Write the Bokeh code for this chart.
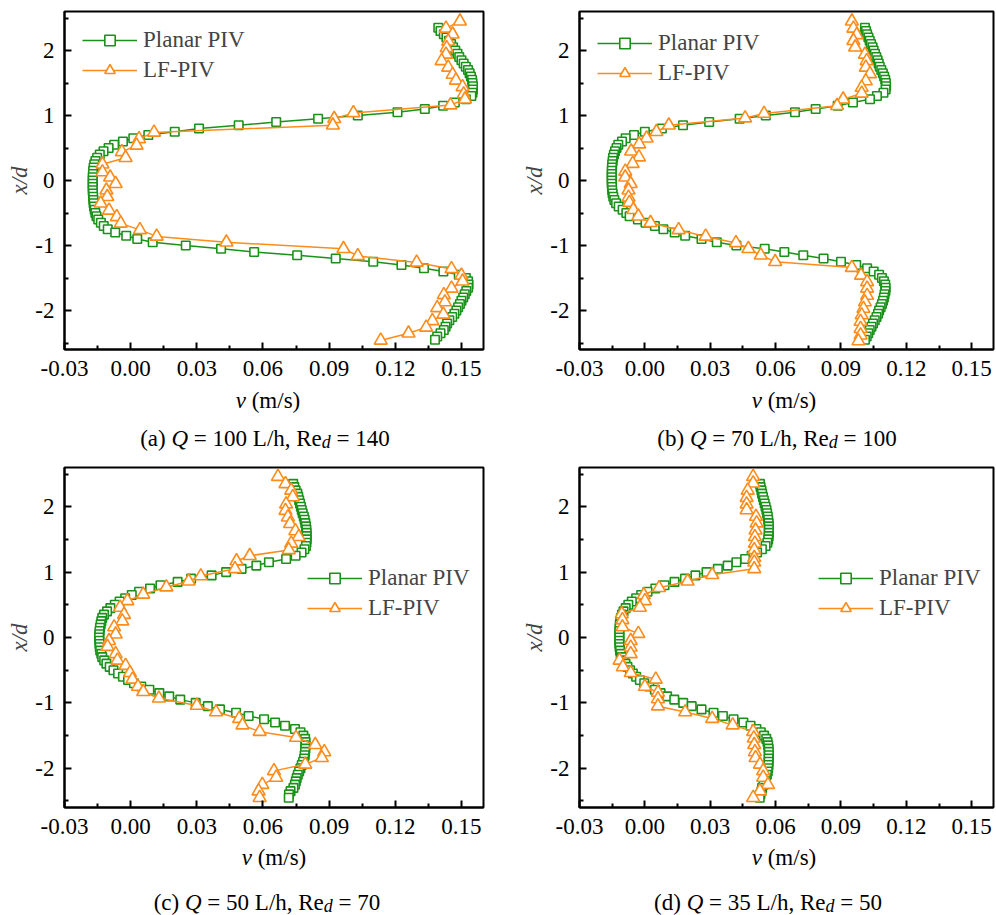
from bokeh.plotting import figure
from bokeh.models import (FixedTicker, Legend, LegendItem, Div,
                          NumeralTickFormatter, Range1d)
from bokeh.layouts import column, row
from bokeh.embed import file_html
from bokeh.resources import INLINE

FONT = "Liberation Serif"
FS = "23px"
GREEN = "#1a921a"
ORANGE = "#ff8c1a"

# ---------------- data ----------------
X_TICKS = [-0.03, 0.00, 0.03, 0.06, 0.09, 0.12, 0.15]
X_MINOR = [-0.015, 0.015, 0.045, 0.075, 0.105, 0.135]
Y_TICKS = [-2, -1, 0, 1, 2]
Y_MINOR = [-2.5, -1.5, -0.5, 0.5, 1.5, 2.5]

# x/d positions of the planar PIV profile (shared by all four cases)
XD_PLANAR = [2.35, 2.30, 2.25, 2.20, 2.15, 2.10, 2.05, 2.00, 1.95, 1.90,
             1.85, 1.80, 1.75, 1.70, 1.65, 1.60, 1.55, 1.50, 1.45, 1.40,
             1.35, 1.30, 1.25, 1.20, 1.15, 1.10, 1.05, 1.00, 0.95, 0.90,
             0.85, 0.80, 0.75, 0.70, 0.65, 0.60, 0.55, 0.50, 0.45, 0.40,
             0.35, 0.30, 0.25, 0.20, 0.15, 0.10, 0.05, 0.00, -0.05, -0.10,
             -0.15, -0.20, -0.25, -0.30, -0.35, -0.40, -0.45, -0.50, -0.55, -0.60,
             -0.65, -0.70, -0.75, -0.80, -0.85, -0.90, -0.95, -1.00, -1.05, -1.10,
             -1.15, -1.20, -1.25, -1.30, -1.35, -1.40, -1.45, -1.50, -1.55, -1.60,
             -1.65, -1.70, -1.75, -1.80, -1.85, -1.90, -1.95, -2.00, -2.05, -2.10,
             -2.15, -2.20, -2.25, -2.30, -2.35, -2.40, -2.45]

# (a) Q = 100 L/h
V_PLANAR_A = [0.1395, 0.1405, 0.1420, 0.1432, 0.1443, 0.1453, 0.1462, 0.1472, 0.1482, 0.1490,
              0.1500, 0.1510, 0.1520, 0.1530, 0.1537, 0.1543, 0.1548, 0.1550, 0.1552, 0.1552,
              0.1550, 0.1545, 0.1520, 0.1470, 0.1417, 0.1334, 0.1210, 0.1030, 0.0850, 0.0660,
              0.0490, 0.0310, 0.0200, 0.0080, 0.0012, -0.0035, -0.0075, -0.0100, -0.0123, -0.0140,
              -0.0152, -0.0160, -0.0165, -0.0168, -0.0170, -0.0171, -0.0172, -0.0172, -0.0172, -0.0172,
              -0.0172, -0.0171, -0.0170, -0.0169, -0.0168, -0.0166, -0.0163, -0.0160, -0.0155, -0.0147,
              -0.0135, -0.0122, -0.0104, -0.0070, -0.0020, 0.0030, 0.0100, 0.0250, 0.0410, 0.0560,
              0.0755, 0.0930, 0.1100, 0.1228, 0.1330, 0.1418, 0.1488, 0.1520, 0.1530, 0.1532,
              0.1530, 0.1522, 0.1515, 0.1508, 0.1500, 0.1493, 0.1485, 0.1477, 0.1468, 0.1458,
              0.1445, 0.1435, 0.1428, 0.1420, 0.1405, 0.1390, 0.1380]
XD_LF_A = [2.45, 2.34, 2.25, 2.14, 2.04, 1.94, 1.84, 1.74, 1.63, 1.54,
           1.44, 1.33, 1.25, 1.16, 1.04, 0.95, 0.85, 0.74, 0.64, 0.54,
           0.44, 0.35, 0.25, 0.13, 0.05, -0.05, -0.15, -0.25, -0.35, -0.46,
           -0.56, -0.66, -0.76, -0.86, -0.95, -1.05, -1.16, -1.26, -1.36, -1.46,
           -1.55, -1.66, -1.76, -1.87, -1.96, -2.06, -2.16, -2.26, -2.35, -2.46]
V_LF_A = [0.1493, 0.1430, 0.1460, 0.1440, 0.1433, 0.1430, 0.1410, 0.1440, 0.1460, 0.1475,
          0.1505, 0.1510, 0.1516, 0.1450, 0.1010, 0.0923, 0.0917, 0.0106, 0.0038, 0.0027,
          -0.0040, -0.0023, -0.0128, -0.0128, -0.0093, -0.0068, -0.0110, -0.0106, -0.0136, -0.0098,
          -0.0063, -0.0045, 0.0042, 0.0118, 0.0434, 0.0965, 0.1030, 0.1297, 0.1455, 0.1500,
          0.1505, 0.1455, 0.1420, 0.1425, 0.1390, 0.1418, 0.1368, 0.1340, 0.1260, 0.1134]

# (b) Q = 70 L/h
V_PLANAR_B = [0.1010, 0.1015, 0.1020, 0.1026, 0.1032, 0.1038, 0.1045, 0.1050, 0.1056, 0.1062,
              0.1068, 0.1073, 0.1078, 0.1085, 0.1092, 0.1098, 0.1103, 0.1106, 0.1107, 0.1105,
              0.1095, 0.1065, 0.1033, 0.0955, 0.0885, 0.0784, 0.0689, 0.0555, 0.0435, 0.0295,
              0.0175, 0.0078, 0.0000, -0.0050, -0.0088, -0.0105, -0.0122, -0.0130, -0.0137, -0.0142,
              -0.0146, -0.0148, -0.0150, -0.0151, -0.0152, -0.0152, -0.0152, -0.0152, -0.0152, -0.0151,
              -0.0150, -0.0148, -0.0145, -0.0140, -0.0132, -0.0120, -0.0102, -0.0085, -0.0070, -0.0032,
              0.0003, 0.0046, 0.0085, 0.0137, 0.0185, 0.0260, 0.0330, 0.0420, 0.0550, 0.0640,
              0.0727, 0.0820, 0.0900, 0.0970, 0.1020, 0.1050, 0.1075, 0.1088, 0.1097, 0.1103,
              0.1105, 0.1104, 0.1100, 0.1097, 0.1093, 0.1088, 0.1082, 0.1075, 0.1070, 0.1063,
              0.1055, 0.1047, 0.1040, 0.1032, 0.1025, 0.1018, 0.1010]
XD_LF_B = [2.45, 2.34, 2.24, 2.15, 2.05, 1.94, 1.84, 1.74, 1.64, 1.53,
           1.43, 1.34, 1.25, 1.15, 1.03, 0.96, 0.85, 0.75, 0.65, 0.56,
           0.45, 0.36, 0.26, 0.14, 0.05, -0.05, -0.15, -0.26, -0.34, -0.45,
           -0.55, -0.65, -0.76, -0.86, -0.96, -1.05, -1.15, -1.25, -1.34, -1.46,
           -1.56, -1.66, -1.77, -1.87, -1.97, -2.07, -2.17, -2.28, -2.38, -2.47]
V_LF_B = [0.0950, 0.0957, 0.0972, 0.0957, 0.0965, 0.1010, 0.1018, 0.1014, 0.1033, 0.1014,
          0.0995, 0.0995, 0.0910, 0.0882, 0.0547, 0.0460, 0.0110, 0.0053, 0.0008, -0.0026,
          -0.0063, -0.0027, -0.0056, -0.0090, -0.0090, -0.0065, -0.0075, -0.0075, -0.0071, -0.0053,
          -0.0030, 0.0026, 0.0155, 0.0279, 0.0418, 0.0475, 0.0532, 0.0598, 0.0950, 0.0992,
          0.1020, 0.1020, 0.1020, 0.1010, 0.1003, 0.0995, 0.0990, 0.0990, 0.0990, 0.0980]

# (c) Q = 50 L/h
V_PLANAR_C = [0.0737, 0.0742, 0.0748, 0.0756, 0.0760, 0.0764, 0.0768, 0.0772, 0.0776, 0.0780,
              0.0785, 0.0789, 0.0792, 0.0795, 0.0797, 0.0798, 0.0798, 0.0798, 0.0797, 0.0795,
              0.0788, 0.0775, 0.0748, 0.0705, 0.0627, 0.0570, 0.0503, 0.0433, 0.0367, 0.0274,
              0.0213, 0.0135, 0.0088, 0.0038, 0.0005, -0.0025, -0.0050, -0.0072, -0.0092, -0.0107,
              -0.0121, -0.0129, -0.0133, -0.0136, -0.0139, -0.0141, -0.0142, -0.0143, -0.0142, -0.0141,
              -0.0140, -0.0138, -0.0133, -0.0129, -0.0120, -0.0110, -0.0095, -0.0078, -0.0057, -0.0035,
              -0.0012, 0.0015, 0.0048, 0.0085, 0.0130, 0.0175, 0.0225, 0.0295, 0.0350, 0.0405,
              0.0478, 0.0535, 0.0605, 0.0655, 0.0700, 0.0745, 0.0770, 0.0783, 0.0791, 0.0793,
              0.0793, 0.0792, 0.0791, 0.0789, 0.0787, 0.0782, 0.0776, 0.0770, 0.0764, 0.0758,
              0.0753, 0.0749, 0.0745, 0.0738, 0.0725, 0.0718, 0.0717]
XD_LF_C = [2.46, 2.35, 2.25, 2.15, 2.04, 1.94, 1.84, 1.74, 1.63, 1.54,
           1.44, 1.34, 1.25, 1.17, 1.05, 0.94, 0.86, 0.77, 0.66, 0.56,
           0.46, 0.35, 0.25, 0.16, 0.05, -0.05, -0.14, -0.25, -0.35, -0.43,
           -0.54, -0.64, -0.75, -0.83, -0.93, -1.04, -1.14, -1.24, -1.34, -1.44,
           -1.53, -1.64, -1.75, -1.84, -1.94, -2.04, -2.14, -2.25, -2.35, -2.45]
V_LF_C = [0.0668, 0.0702, 0.0728, 0.0735, 0.0705, 0.0702, 0.0713, 0.0723, 0.0747, 0.0762,
          0.0728, 0.0717, 0.0540, 0.0480, 0.0473, 0.0318, 0.0263, 0.0162, 0.0057, -0.0015,
          -0.0048, -0.0030, -0.0038, -0.0075, -0.0068, -0.0098, -0.0105, -0.0068, -0.0060, -0.0023,
          -0.0003, 0.0008, 0.0033, 0.0057, 0.0128, 0.0300, 0.0387, 0.0492, 0.0507, 0.0585,
          0.0750, 0.0837, 0.0878, 0.0867, 0.0792, 0.0650, 0.0660, 0.0597, 0.0580, 0.0585]

# (d) Q = 35 L/h
V_PLANAR_D = [0.0528, 0.0531, 0.0535, 0.0538, 0.0542, 0.0546, 0.0550, 0.0554, 0.0558, 0.0561,
              0.0564, 0.0566, 0.0568, 0.0569, 0.0569, 0.0569, 0.0568, 0.0566, 0.0562, 0.0554,
              0.0537, 0.0515, 0.0490, 0.0460, 0.0420, 0.0380, 0.0335, 0.0283, 0.0232, 0.0184,
              0.0136, 0.0090, 0.0048, 0.0012, -0.0017, -0.0040, -0.0060, -0.0076, -0.0088, -0.0098,
              -0.0105, -0.0110, -0.0113, -0.0115, -0.0116, -0.0117, -0.0117, -0.0117, -0.0117, -0.0117,
              -0.0116, -0.0114, -0.0111, -0.0105, -0.0098, -0.0089, -0.0080, -0.0068, -0.0055, -0.0040,
              -0.0023, -0.0003, 0.0020, 0.0046, 0.0072, 0.0102, 0.0135, 0.0176, 0.0215, 0.0260,
              0.0315, 0.0358, 0.0407, 0.0452, 0.0485, 0.0512, 0.0532, 0.0547, 0.0557, 0.0563,
              0.0566, 0.0568, 0.0569, 0.0569, 0.0568, 0.0568, 0.0567, 0.0566, 0.0564, 0.0560,
              0.0555, 0.0550, 0.0545, 0.0538, 0.0535, 0.0530, 0.0527]
XD_LF_D = [2.46, 2.36, 2.25, 2.14, 2.04, 1.95, 1.85, 1.75, 1.64, 1.54,
           1.44, 1.34, 1.22, 1.15, 1.05, 0.96, 0.86, 0.76, 0.65, 0.56,
           0.46, 0.36, 0.27, 0.16, 0.06, -0.05, -0.15, -0.25, -0.35, -0.45,
           -0.54, -0.64, -0.75, -0.84, -0.94, -1.05, -1.14, -1.24, -1.34, -1.44,
           -1.54, -1.64, -1.75, -1.84, -1.94, -2.04, -2.14, -2.25, -2.35, -2.45]
V_LF_D = [0.0497, 0.0497, 0.0472, 0.0467, 0.0467, 0.0467, 0.0510, 0.0513, 0.0508, 0.0505,
          0.0505, 0.0502, 0.0502, 0.0502, 0.0502, 0.0309, 0.0196, 0.0065, -0.0005, 0.0000,
          -0.0023, -0.0106, -0.0103, -0.0103, -0.0030, -0.0065, -0.0065, -0.0065, -0.0116, -0.0101,
          -0.0065, 0.0050, 0.0000, 0.0060, 0.0060, 0.0060, 0.0185, 0.0309, 0.0403, 0.0497,
          0.0500, 0.0502, 0.0505, 0.0508, 0.0528, 0.0543, 0.0543, 0.0565, 0.0528, 0.0497]

SERIES_NAMES = ["Planar PIV", "LF-PIV"]
X_TITLE = "<i>v</i> (m/s)"
SUB_D = "<i style='font-size:0.78em; vertical-align:-0.12em'>d</i>"
CAPTIONS = [
    f"(a) <i>Q</i> = 100 L/h, Re{SUB_D} = 140",
    f"(b) <i>Q</i> = 70 L/h, Re{SUB_D} = 100",
    f"(c) <i>Q</i> = 50 L/h, Re{SUB_D} = 70",
    f"(d) <i>Q</i> = 35 L/h, Re{SUB_D} = 50",
]


def make_panel(v_planar, xd_lf, v_lf, width, b_left, b_right, b_top, frame_h,
               legend_xy):
    b_bottom = 40
    height = b_top + frame_h + b_bottom
    p = figure(width=width, height=height,
               x_range=Range1d(-0.03, 0.16), y_range=Range1d(-2.6, 2.6),
               output_backend="svg", toolbar_location=None,
               min_border_left=b_left, min_border_right=b_right,
               min_border_top=b_top, min_border_bottom=b_bottom)
    p.grid.visible = False
    p.outline_line_color = "black"
    p.outline_line_width = 2
    p.outline_line_alpha = 1

    for ax in (p.xaxis[0], p.yaxis[0]):
        ax.axis_line_width = 2
        ax.major_tick_line_width = 2
        ax.minor_tick_line_width = 2
        ax.major_tick_in = 7
        ax.major_tick_out = 0
        ax.minor_tick_in = 4
        ax.minor_tick_out = 0
        ax.major_label_text_font = FONT
        ax.major_label_text_font_size = FS
        ax.major_label_text_color = "black"
    p.xaxis.ticker = FixedTicker(ticks=X_TICKS, minor_ticks=X_MINOR)
    p.xaxis.formatter = NumeralTickFormatter(format="0.00")
    p.xaxis.major_label_standoff = 11
    p.yaxis.ticker = FixedTicker(ticks=Y_TICKS, minor_ticks=Y_MINOR)
    p.yaxis.formatter = NumeralTickFormatter(format="0")
    p.yaxis.major_label_standoff = 10
    p.yaxis.axis_label = "x/d"
    p.yaxis.axis_label_text_font = FONT
    p.yaxis.axis_label_text_font_size = FS
    p.yaxis.axis_label_text_font_style = "italic"
    p.yaxis.axis_label_standoff = 0

    l1 = p.line(v_planar, XD_PLANAR, line_color=GREEN, line_width=1.5)
    s1 = p.scatter(v_planar, XD_PLANAR, marker="square", size=8.5,
                   line_color=GREEN, line_width=1.6, fill_color="white")
    l2 = p.line(v_lf, xd_lf, line_color=ORANGE, line_width=1.5)
    s2 = p.scatter(v_lf, xd_lf, marker="triangle", size=13,
                   line_color=ORANGE, line_width=1.6, fill_color="white")

    legend = Legend(items=[LegendItem(label=SERIES_NAMES[0], renderers=[l1, s1]),
                           LegendItem(label=SERIES_NAMES[1], renderers=[l2, s2])],
                    location=legend_xy, orientation="vertical",
                    label_text_font=FONT, label_text_font_size=FS,
                    glyph_width=55, glyph_height=26, label_height=30,
                    label_standoff=6, padding=0, margin=0, spacing=0,
                    border_line_color=None, background_fill_alpha=0)
    p.add_layout(legend)
    return p


def texts_below(width, height, title_xy, cap_xy, cap_html):
    base = (f"position:absolute; font-family:'{FONT}'; font-size:{FS}; "
            f"line-height:1.15; color:black; white-space:nowrap; "
            f"transform:translate(-50%,-50%);")
    html = (f"<div style='position:relative; width:{width}px; height:{height}px;'>"
            f"<div style=\"{base} left:{title_xy[0]}px; top:{title_xy[1]}px;\">{X_TITLE}</div>"
            f"<div style=\"{base} left:{cap_xy[0]}px; top:{cap_xy[1]}px;\">{cap_html}</div>"
            f"</div>")
    return Div(text=html, width=width, height=height, margin=0)


WA, WB = 519, 477
# top row: frames at y 11..349 ; bottom row frames at y 467..807
fa = make_panel(V_PLANAR_A, XD_LF_A, V_LF_A, WA, 64, 36, 11, 338, (18, 264))
fb = make_panel(V_PLANAR_B, XD_LF_B, V_LF_B, WB, 56, 3, 11, 338, (18, 261))
fc = make_panel(V_PLANAR_C, XD_LF_C, V_LF_C, WA, 64, 36, 3, 340, (243, 184))
fd = make_panel(V_PLANAR_D, XD_LF_D, V_LF_D, WB, 56, 3, 3, 340, (239, 184))

# text blocks under each panel (axis title + caption)
da = texts_below(WA, 75, (268, 12), (265, 50), CAPTIONS[0])
db = texts_below(WB, 75, (265, 12), (258, 50), CAPTIONS[1])
dc = texts_below(WA, 66, (274, 11), (267, 56), CAPTIONS[2])
dd = texts_below(WB, 66, (265, 11), (249, 56), CAPTIONS[3])

layout = column(row(fa, fb), row(da, db), row(fc, fd), row(dc, dd))

open("out.html", "w").write(file_html(layout, INLINE))
